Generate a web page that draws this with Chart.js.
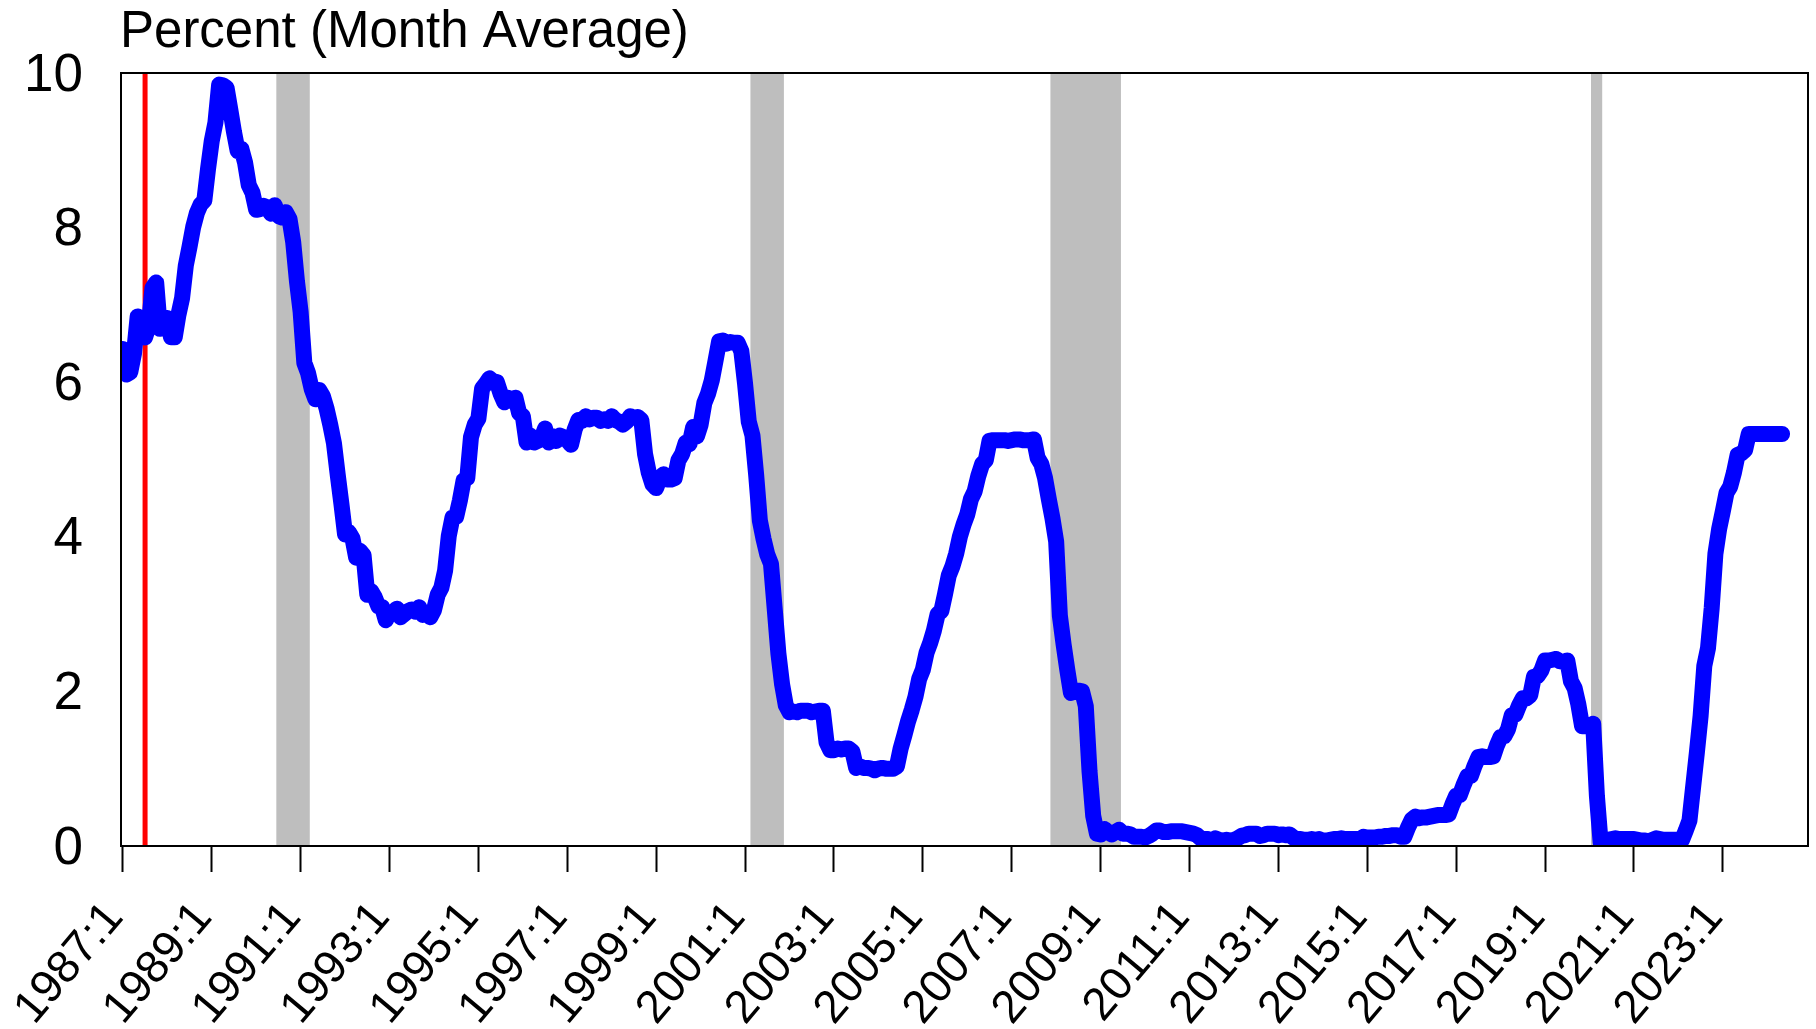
<!DOCTYPE html>
<html>
<head>
<meta charset="utf-8">
<script src="https://cdn.jsdelivr.net/npm/chart.js@4/dist/chart.umd.min.js"></script>
<style>
html,body{margin:0;padding:0;background:#fff;}
#wrap{width:1816px;height:1029px;position:relative;}
</style>
</head>
<body>
<div id="wrap"><canvas id="c" width="1816" height="1029"></canvas></div>
<script>
// ---- Data (federal funds rate, percent, month average) ----
const firstYear = 1987;
const lastAxisMonth = '2024:12';
const titleText = 'Percent (Month Average)';

const rates1987to1989 = [
  6.43,6.10,6.13,6.37,6.85,6.73,6.58,6.73,7.22,7.29,6.69,6.77,
  6.83,6.58,6.58,6.87,7.09,7.51,7.75,8.01,8.19,8.30,8.35,8.76,
  9.12,9.36,9.85,9.84,9.81,9.53,9.24,8.99,9.02,8.84,8.55,8.45
];
const rates1990s = [
  8.23,8.24,8.28,8.26,8.18,8.29,8.15,8.13,8.20,8.11,7.81,7.31,
  6.91,6.25,6.12,5.91,5.78,5.90,5.82,5.66,5.45,5.21,4.81,4.43,
  4.03,4.06,3.98,3.73,3.82,3.76,3.25,3.30,3.22,3.10,3.09,2.92,
  3.02,3.03,3.07,2.96,3.00,3.04,3.06,3.03,3.09,2.99,3.02,2.96,
  3.05,3.25,3.34,3.56,4.01,4.25,4.26,4.47,4.73,4.76,5.29,5.45,
  5.53,5.92,5.98,6.05,6.01,6.00,5.85,5.74,5.80,5.76,5.80,5.60,
  5.56,5.22,5.31,5.22,5.24,5.27,5.40,5.22,5.30,5.24,5.31,5.29,
  5.25,5.19,5.39,5.51,5.50,5.56,5.52,5.54,5.54,5.50,5.52,5.50,
  5.56,5.51,5.49,5.45,5.49,5.56,5.54,5.55,5.51,5.07,4.83,4.68,
  4.63,4.76,4.81,4.74,4.74,4.76,4.99,5.07,5.22,5.20,5.42,5.30
];
const rates2000s = [
  5.45,5.73,5.85,6.02,6.27,6.53,6.54,6.50,6.52,6.51,6.51,6.40,
  5.98,5.49,5.31,4.80,4.21,3.97,3.77,3.65,3.07,2.49,2.09,1.82,
  1.73,1.74,1.73,1.75,1.75,1.75,1.73,1.74,1.75,1.75,1.34,1.24,
  1.24,1.26,1.25,1.26,1.26,1.22,1.01,1.03,1.01,1.01,1.00,0.98,
  1.00,1.01,1.00,1.00,1.00,1.03,1.26,1.43,1.61,1.76,1.93,2.16,
  2.28,2.50,2.63,2.79,3.00,3.04,3.26,3.50,3.62,3.78,4.00,4.16,
  4.29,4.49,4.59,4.79,4.94,4.99,5.24,5.25,5.25,5.25,5.25,5.24,
  5.25,5.26,5.26,5.25,5.25,5.25,5.26,5.02,4.94,4.76,4.49,4.24,
  3.94,2.98,2.61,2.28,1.98,2.00,2.01,2.00,1.81,0.97,0.39,0.16,
  0.15,0.22,0.18,0.15,0.18,0.21,0.16,0.16,0.15,0.12,0.12,0.12
];
const rates2010s = [
  0.11,0.13,0.16,0.20,0.20,0.18,0.18,0.19,0.19,0.19,0.19,0.18,
  0.17,0.16,0.14,0.10,0.09,0.09,0.07,0.10,0.08,0.07,0.08,0.07,
  0.08,0.10,0.13,0.14,0.16,0.16,0.16,0.13,0.14,0.16,0.16,0.16,
  0.14,0.15,0.14,0.15,0.11,0.09,0.09,0.08,0.08,0.09,0.08,0.09,
  0.07,0.07,0.08,0.09,0.09,0.10,0.09,0.09,0.09,0.09,0.09,0.12,
  0.11,0.11,0.11,0.12,0.12,0.13,0.13,0.14,0.14,0.12,0.12,0.24,
  0.34,0.38,0.36,0.37,0.37,0.38,0.39,0.40,0.40,0.40,0.41,0.54,
  0.65,0.66,0.79,0.90,0.91,1.04,1.15,1.16,1.15,1.15,1.16,1.30,
  1.41,1.42,1.51,1.69,1.70,1.82,1.91,1.91,1.95,2.19,2.20,2.27,
  2.40,2.40,2.41,2.42,2.39,2.38,2.40,2.13,2.04,1.83,1.55,1.55
];
const rates2020s = [
  1.55,1.58,0.65,0.05,0.05,0.08,0.09,0.10,0.09,0.09,0.09,0.09,
  0.09,0.08,0.07,0.07,0.06,0.08,0.10,0.09,0.08,0.08,0.08,0.08,
  0.08,0.08,0.20,0.33,0.77,1.21,1.68,2.33,2.56,3.08,3.78,4.10,
  4.33,4.57,4.65,4.83,5.06,5.08,5.12,5.33,5.33,5.33,5.33,5.33,
  5.33,5.33,5.33,5.33,5.33
];

const tickLabels = ['1987:1','1989:1','1991:1','1993:1','1995:1','1997:1','1999:1',
  '2001:1','2003:1','2005:1','2007:1','2009:1','2011:1','2013:1','2015:1',
  '2017:1','2019:1','2021:1','2023:1'];
const yTicks = [0, 2, 4, 6, 8, 10];

const recessionStarts = ['1990:7','2001:3','2007:12','2020:2'];
const recessionEnds   = ['1991:3','2001:11','2009:6','2020:4'];
const markerMonth = '1987:7';

// ---- helpers ----
function monthIndex(label) {
  const [y, m] = label.split(':').map(Number);
  return (y - firstYear) * 12 + (m - 1);
}
const rates = [].concat(rates1987to1989, rates1990s, rates2000s, rates2010s, rates2020s);
const lastIdx = monthIndex(lastAxisMonth);
const months = [];
for (let i = 0; i <= lastIdx; i++) months.push((firstYear + Math.floor(i / 12)) + ':' + (i % 12 + 1));

const FONT = '"Liberation Sans", Arial, Helvetica, sans-serif';
Chart.defaults.font.family = FONT;
Chart.defaults.color = '#000';

const yTop = yTicks[yTicks.length - 1];
const recessionDatasets = recessionStarts.map((s, k) => ({
  type: 'line',
  data: [{x: monthIndex(s) - 0.6, y: yTop}, {x: monthIndex(recessionEnds[k]) + 0.5, y: yTop}],
  borderColor: 'rgba(0,0,0,0)',
  borderWidth: 0,
  backgroundColor: '#BEBEBE',
  fill: 'origin',
  pointRadius: 0,
  order: 3,
  clip: 0
}));

const framePlugin = {
  id: 'frame',
  afterDatasetsDraw(chart) {
    const a = chart.chartArea, ctx = chart.ctx;
    ctx.save();
    ctx.strokeStyle = '#000';
    ctx.lineWidth = 2;
    ctx.strokeRect(a.left, a.top, a.right - a.left, a.bottom - a.top);
    ctx.restore();
  }
};
const titlePlugin = {
  id: 'topTitle',
  afterDraw(chart) {
    const ctx = chart.ctx;
    ctx.save();
    ctx.font = '51px ' + FONT;
    ctx.fillStyle = '#000';
    ctx.textAlign = 'left';
    ctx.textBaseline = 'alphabetic';
    ctx.fillText(titleText, chart.chartArea.left - 1, 47);
    ctx.restore();
  }
};

new Chart(document.getElementById('c'), {
  type: 'line',
  data: {
    datasets: [
      {
        data: rates.map((v, i) => ({x: i, y: v})),
        borderColor: '#0000FF',
        borderWidth: 16,
        borderJoinStyle: 'round',
        borderCapStyle: 'round',
        pointRadius: 0,
        tension: 0,
        fill: false,
        order: 0,
        clip: 0
      },
      {
        data: [{x: monthIndex(markerMonth), y: 0}, {x: monthIndex(markerMonth), y: yTop}],
        borderColor: '#FF0000',
        borderWidth: 5,
        pointRadius: 0,
        fill: false,
        order: 1,
        clip: 0
      },
      ...recessionDatasets
    ]
  },
  options: {
    responsive: false,
    animation: false,
    layout: {padding: {top: 73, right: 8, left: 0, bottom: 0}},
    plugins: {legend: {display: false}, tooltip: {enabled: false}, title: {display: false}},
    scales: {
      x: {
        type: 'linear',
        min: -0.5,
        max: lastIdx,
        afterBuildTicks(scale) {
          scale.ticks = tickLabels.map(l => ({value: monthIndex(l)}));
        },
        afterFit(scale) { scale.height = 183; },
        ticks: {
          autoSkip: false,
          minRotation: 50,
          maxRotation: 50,
          padding: 20,
          labelOffset: -8,
          font: {size: 46},
          color: '#000',
          callback: (v) => months[v]
        },
        grid: {display: true, drawOnChartArea: false, drawTicks: true, tickLength: 26, tickWidth: 2, tickColor: '#000'},
        border: {display: true, color: '#000', width: 2}
      },
      y: {
        type: 'linear',
        min: 0,
        max: 10,
        afterBuildTicks(scale) {
          scale.ticks = yTicks.map(v => ({value: v}));
        },
        afterFit(scale) { scale.width = 121; },
        ticks: {padding: 38, font: {size: 53}, color: '#000', labelOffset: 3},
        grid: {display: false, drawTicks: false},
        border: {display: true, color: '#000', width: 2}
      }
    }
  },
  plugins: [framePlugin, titlePlugin]
});
</script>
</body>
</html>
